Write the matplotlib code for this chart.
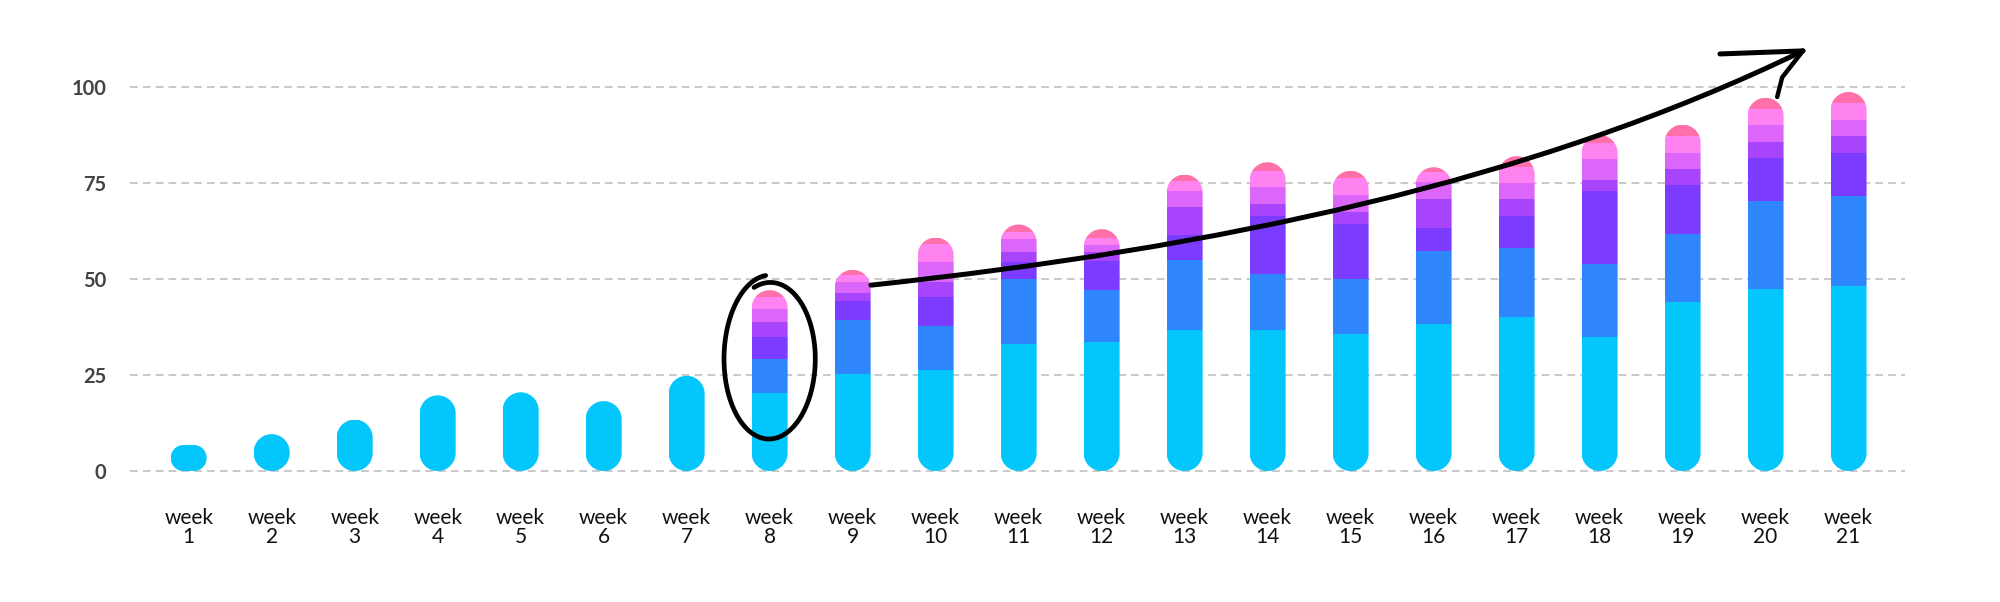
import numpy as np
import matplotlib.pyplot as plt
from matplotlib.path import Path
from matplotlib.patches import PathPatch

# weekly stacked values (7 layers, bottom to top)
weeks = list(range(1, 22))
cyan = [6.8, 9.6, 13.4, 19.7, 20.5, 18.2, 24.8, 20.4, 25.2, 26.2, 33.0,
        33.6, 36.8, 36.8, 35.8, 38.2, 40.2, 35.0, 44.0, 47.3, 48.1]
blue = [0, 0, 0, 0, 0, 0, 0, 8.9, 14.2, 11.5, 17.1,
        13.6, 18.2, 14.4, 14.3, 19.0, 17.9, 18.9, 17.8, 22.9, 23.5]
violet = [0, 0, 0, 0, 0, 0, 0, 5.6, 5.0, 7.5, 4.3,
          7.5, 6.4, 15.1, 14.2, 6.1, 8.4, 18.9, 12.6, 11.3, 11.3]
purple = [0, 0, 0, 0, 0, 0, 0, 3.9, 2.0, 4.0, 2.6,
          2.3, 7.4, 3.3, 3.1, 7.6, 4.4, 3.1, 4.3, 4.2, 4.3]
orchid = [0, 0, 0, 0, 0, 0, 0, 3.5, 2.8, 5.2, 3.3,
          1.8, 4.2, 4.3, 4.5, 4.3, 4.1, 5.4, 4.2, 4.3, 4.1]
pink = [0, 0, 0, 0, 0, 0, 0, 3.0, 1.8, 4.8, 1.9,
        2.0, 2.5, 4.3, 4.3, 2.6, 4.1, 4.1, 4.3, 4.2, 4.4]
hotpink = [0, 0, 0, 0, 0, 0, 0, 1.8, 1.4, 1.6, 2.0,
           2.2, 1.7, 2.2, 2.0, 1.3, 2.9, 2.1, 3.0, 3.0, 3.0]

layers = [cyan, blue, violet, purple, orchid, pink, hotpink]
colors = ['#02C6FC', '#2F86FC', '#7C3CFF', '#A845FC', '#DC66FA', '#FF82F1', '#FF70AA']
yticks = [0, 25, 50, 75, 100]

fig = plt.figure(figsize=(20, 6.02), dpi=100)
ax = fig.add_axes([0.065, 0.2048, 0.8875, 0.7464])
ax.set_xlim(-0.707, 20.68)
ax.set_ylim(-2, 115)

x = np.arange(len(weeks))
width = 0.434

bottoms = np.zeros(len(weeks))
containers = []
for vals, c in zip(layers, colors):
    bars = ax.bar(x, vals, width=width, bottom=bottoms, color=c, linewidth=0, zorder=2)
    containers.append(bars)
    bottoms = bottoms + np.array(vals)
totals = bottoms

# pixel scale of the data units, used to make circular caps
p0 = ax.transData.transform((0, 0))
sx = ax.transData.transform((1, 0))[0] - p0[0]
sy = ax.transData.transform((0, 1))[1] - p0[1]


def stadium(cx, hw, h):
    r = min(hw * sx, h * sy / 2)
    rx, ry = r / sx, r / sy
    x0, x1 = cx - hw, cx + hw
    pts = []
    corners = [(x0 + rx, ry, 180, 270), (x1 - rx, ry, 270, 360),
               (x1 - rx, h - ry, 0, 90), (x0 + rx, h - ry, 90, 180)]
    for ccx, ccy, a0, a1 in corners:
        t = np.radians(np.linspace(a0, a1, 24))
        pts += list(zip(ccx + rx * np.cos(t), ccy + ry * np.sin(t)))
    pts.append(pts[0])
    return Path(pts, closed=True)


for i in range(len(weeks)):
    clip = PathPatch(stadium(x[i], width / 2, totals[i]), facecolor='none',
                     edgecolor='none')
    ax.add_patch(clip)
    for bars in containers:
        bars[i].set_clip_path(clip)

# axes styling
for s in ax.spines.values():
    s.set_visible(False)
ax.set_axisbelow(True)
ax.yaxis.grid(True, color='#c9c9c9', linestyle=(0, (4, 2.6)), linewidth=1.4)
ax.set_yticks(yticks)
ax.set_yticklabels([str(v) for v in yticks], fontsize=14.5, color='#444444',
                   fontweight='bold', family='Lato')
ax.set_xticks(x)
ax.set_xticklabels([f'week\n{w}' for w in weeks], fontsize=15, color='#111111',
                   family='Lato', linespacing=0.95)
ax.tick_params(axis='y', length=0, pad=17)
ax.tick_params(axis='x', length=0, pad=21)

# hand drawn circle around week 8
t = np.radians(np.linspace(95, 470, 200))
b = np.linspace(21.8, 19.8, 200)
ax.plot(7 + 0.55 * np.cos(t), 29.2 + b * np.sin(t), color='black', lw=3.4,
        solid_capstyle='round', zorder=5, clip_on=False)

# hand drawn trend arrow
curve = Path([(8.22, 48.4), (12.4, 58.1), (16.2, 75.3), (19.45, 109.4)],
             [Path.MOVETO, Path.CURVE4, Path.CURVE4, Path.CURVE4])
ax.add_patch(PathPatch(curve, facecolor='none', edgecolor='black', lw=3.6,
                       capstyle='round', zorder=5, clip_on=False))
ax.plot([18.45, 19.45], [108.6, 109.4], color='black', lw=3.6,
        solid_capstyle='round', zorder=5, clip_on=False)
ax.plot([19.45, 19.2, 19.14], [109.4, 102.5, 97.4], color='black', lw=3.2,
        solid_capstyle='round', zorder=5, clip_on=False)

fig.savefig('out.png', dpi=100, facecolor='white')
